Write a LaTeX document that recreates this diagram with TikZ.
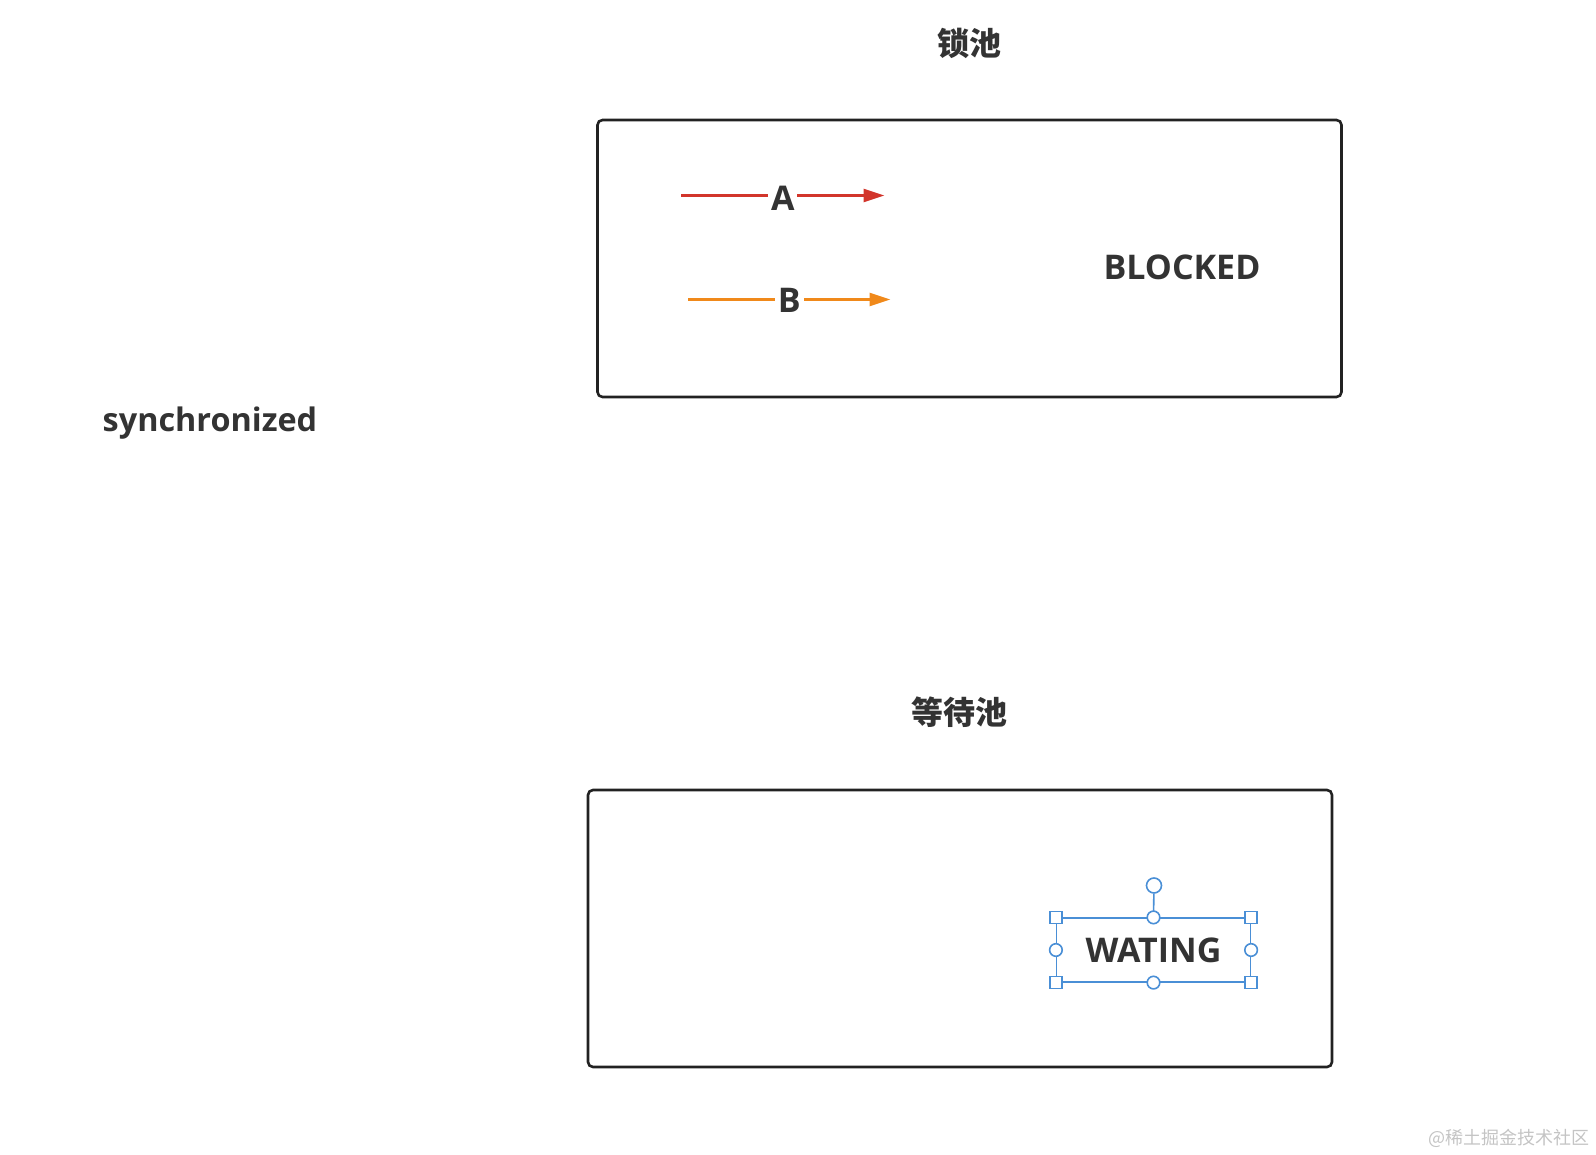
\documentclass[tikz,border=0pt]{standalone}
\usepackage{fontspec}
\setmainfont{Open Sans}
\newfontfamily\cjk{Noto Sans CJK SC}
\usetikzlibrary{positioning,arrows.meta}
\definecolor{inkdark}{HTML}{333333}
\definecolor{frameink}{HTML}{222222}
\definecolor{arrred}{HTML}{D2352B}
\definecolor{arrorange}{HTML}{F0891A}
\definecolor{selblue}{HTML}{4A8FD6}
\definecolor{markgrey}{HTML}{C4C4C4}
\tikzset{
  pool/.style={draw=frameink, line width=1.3pt, rounded corners=2.5pt,
               minimum width=372pt, minimum height=138.5pt},
  pool title/.style={font=\cjk\bfseries\fontsize{16}{19}\selectfont, text=inkdark},
  state/.style={font=\bfseries\fontsize{17}{20}\selectfont, text=inkdark},
  thread arr/.style={-{Triangle[length=10.5pt, width=6.5pt]}, line width=1.3pt},
  thread lab/.style={font=\bfseries\fontsize{17}{20}\selectfont, text=inkdark,
                     fill=white, inner sep=1.5pt},
  sel box/.style={draw=selblue, line width=0.6pt, minimum width=97pt, minimum height=32pt},
  sel sq/.style={draw=selblue, fill=white, line width=0.8pt, minimum size=6pt, inner sep=0pt},
  sel rd/.style={sel sq, circle, minimum size=6.3pt},
}
\begin{document}
\begin{tikzpicture}[x=0.5pt, y=-0.5pt]
  \useasboundingbox (0,0) rectangle (1596,1155);
  % the two pools
  \node[pool title] (locktitle) at (969,43) {锁池};
  \node[pool] (lockpool) at (969.5,258.5) {};
  \node[pool title] (waittitle) at (959,712) {等待池};
  \node[pool] (waitpool) at (960,928.5) {};
  \node[state, font=\bfseries\fontsize{16.2}{19}\selectfont] (sync) at (210,423) {synchronized};
  \node[state] (blocked) at (1182,267) {BLOCKED};
  % threads A and B
  \coordinate (aS) at (681,195.5);  \coordinate (aE) at (884.5,195.5);
  \coordinate (bS) at (688,299.5);  \coordinate (bE) at (890.5,299.5);
  \draw[thread arr, arrred] (aS) -- node[thread lab, yshift=-1.5pt] (alab) {A} (aE);
  \draw[thread arr, arrorange] (bS) -- node[thread lab, yshift=-0.5pt] (blab) {B} (bE);
  % selected text box with handles
  \node[sel box, state] (wating) at (1153.5,950) {WATING};
  \node[sel rd, minimum size=7.5pt] (rot) at (1154,885.5) {};
  \draw[selblue, line width=0.8pt] (rot) -- (wating.north);
  \foreach \c in {north west,north east,south west,south east}
    \node[sel sq] at (wating.\c) {};
  \foreach \c in {north,south,east,west}
    \node[sel rd] at (wating.\c) {};
  \node[font=\cjk\fontsize{9}{11}\selectfont, text=markgrey, anchor=east, inner sep=0pt] (mark) at (1590,1138) {@稀土掘金技术社区};
\end{tikzpicture}
\end{document}
